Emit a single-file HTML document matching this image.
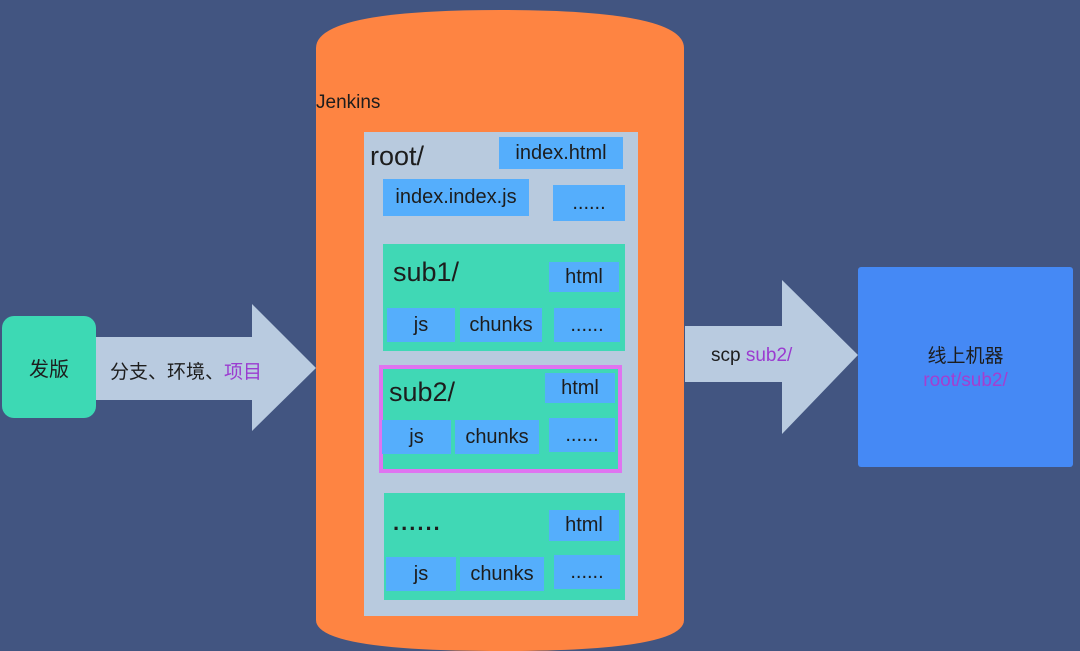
<!DOCTYPE html>
<html><head><meta charset="utf-8"><style>
body{margin:0;width:1080px;height:651px;background:#425581;position:relative;overflow:hidden;font-family:"Liberation Sans","Noto Sans CJK SC",sans-serif;color:#1d1d1d}
.a{position:absolute;box-sizing:border-box}
.b{position:absolute;background:#55aefc;display:flex;align-items:center;justify-content:center;font-size:20px}
.g{position:absolute;background:#40d8b5}
</style></head><body>
<svg class="a" style="left:0;top:0" width="1080" height="651">
<path d="M316 48 Q316 10 500 10 Q684 10 684 48 L684 620 Q684 651 500 651 Q316 651 316 620 Z" fill="#fe8442"/>
<path d="M96 337 L252 337 L252 304 L316 368 L252 431 L252 400 L96 400 Z" fill="#b9cbe0"/>
<path d="M685 326 L782 326 L782 280 L858 355 L782 434 L782 382 L685 382 Z" fill="#b9cbe0"/>
</svg>
<div class="a" style="left:2px;top:316px;width:94px;height:102px;background:#3dd9b4;border-radius:12px;display:flex;align-items:center;justify-content:center;font-size:20px">发版</div>
<div class="a" style="left:110px;top:357px;font-size:19px">分支、环境、<span style="color:#9b3bd0">项目</span></div>
<div class="a" style="left:711px;top:345px;font-size:19px">scp <span style="color:#9b3bd0">sub2/</span></div>
<div class="a" style="left:858px;top:267px;width:215px;height:200px;background:#4589f5;border-radius:3px;text-align:center;padding-top:78px;font-size:19px;line-height:24px">线上机器<br><span style="color:#a33fd0">root/sub2/</span></div>
<div class="a" style="left:316px;top:92px;font-size:19px">Jenkins</div>
<div class="a" style="left:364px;top:132px;width:274px;height:484px;background:#b8cade"></div>
<div class="a" style="left:370px;top:141px;font-size:27px">root/</div>
<div class="b" style="left:499px;top:137px;width:124px;height:32px">index.html</div>
<div class="b" style="left:383px;top:179px;width:146px;height:37px">index.index.js</div>
<div class="b" style="left:553px;top:185px;width:72px;height:36px">......</div>

<div class="g" style="left:383px;top:244px;width:242px;height:107px"></div>
<div class="a" style="left:393px;top:257px;font-size:27px">sub1/</div>
<div class="b" style="left:549px;top:262px;width:70px;height:30px">html</div>
<div class="b" style="left:387px;top:308px;width:68px;height:34px">js</div>
<div class="b" style="left:460px;top:308px;width:82px;height:34px">chunks</div>
<div class="b" style="left:554px;top:308px;width:66px;height:34px">......</div>

<div class="g" style="left:379px;top:365px;width:243px;height:108px;border:4px solid #df74f0;box-sizing:border-box"></div>
<div class="a" style="left:389px;top:377px;font-size:27px">sub2/</div>
<div class="b" style="left:545px;top:373px;width:70px;height:30px">html</div>
<div class="b" style="left:382px;top:420px;width:69px;height:34px">js</div>
<div class="b" style="left:455px;top:420px;width:84px;height:34px">chunks</div>
<div class="b" style="left:549px;top:418px;width:66px;height:34px">......</div>

<div class="g" style="left:384px;top:493px;width:241px;height:107px"></div>
<div class="a" style="left:393px;top:510px;font-size:22px;font-weight:bold;letter-spacing:2px">......</div>
<div class="b" style="left:549px;top:510px;width:70px;height:31px">html</div>
<div class="b" style="left:386px;top:557px;width:70px;height:34px">js</div>
<div class="b" style="left:460px;top:557px;width:84px;height:34px">chunks</div>
<div class="b" style="left:554px;top:555px;width:66px;height:34px">......</div>
</body></html>
